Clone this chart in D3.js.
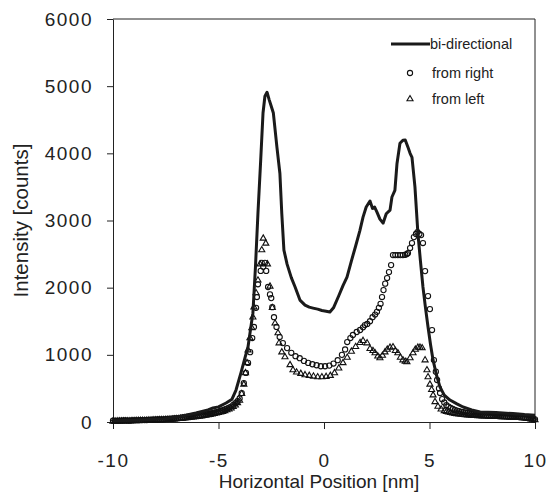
<!DOCTYPE html>
<html>
<head>
<meta charset="utf-8">
<script src="https://cdn.jsdelivr.net/npm/d3@7"></script>
<style>
body { margin: 0; background: #fff; }
svg { display: block; font-family: "Liberation Sans", Arial, sans-serif; }
.axis path, .axis line { stroke: #222; }
.axis text { fill: #222; font-size: 19px; letter-spacing: 1.5px; }
</style>
</head>
<body>
<div id="chart"></div>
<script>
// values, [position nm, counts]
const biDirectional = [
	[-10, 20], [-9, 25], [-8, 40], [-7.6, 45], [-7, 75], [-6.5, 105], [-6.07, 134], [-5.5, 180],
	[-5.26, 208], [-5, 225], [-4.64, 283], [-4.36, 340], [-4.17, 476], [-3.93, 740], [-3.75, 950],
	[-3.6, 1120], [-3.45, 1450], [-3.37, 1620], [-3.25, 2300], [-3.13, 3110], [-3.0, 3900],
	[-2.89, 4600], [-2.8, 4850], [-2.7, 4910], [-2.6, 4800], [-2.5, 4700], [-2.4, 4600],
	[-2.23, 4090], [-2.09, 3700], [-2.0, 3100], [-1.9, 2560], [-1.75, 2350], [-1.55, 2150],
	[-1.37, 2010], [-1.14, 1815], [-0.9, 1740], [-0.7, 1710], [-0.52, 1696], [-0.3, 1680],
	[-0.1, 1660], [0.1, 1650], [0.28, 1637], [0.45, 1700], [0.7, 1880], [0.9, 2030], [1.09, 2158],
	[1.3, 2400], [1.5, 2620], [1.7, 2850], [1.85, 3050], [2.0, 3200], [2.18, 3290], [2.3, 3180],
	[2.4, 3200], [2.51, 3125], [2.65, 3020], [2.8, 2960], [2.95, 3100], [3.13, 3155], [3.22, 3350],
	[3.36, 3450], [3.46, 3850], [3.6, 4150], [3.74, 4196], [3.85, 4200], [3.98, 4090], [4.08, 4000],
	[4.17, 3940], [4.31, 3500], [4.45, 2810], [4.57, 2400], [4.69, 2010], [4.81, 1700], [4.93, 1414],
	[5.05, 1150], [5.17, 920], [5.33, 700], [5.5, 520], [5.7, 400], [5.97, 327], [6.3, 270],
	[6.59, 223], [7.0, 180], [7.4, 150], [8.15, 140], [8.96, 125], [9.5, 110], [10, 100]
];

const fromRight = [
	[-10, 20], [-9.9, 18], [-9.8, 18], [-9.7, 20], [-9.6, 20], [-9.5, 22], [-9.4, 22], [-9.3, 20],
	[-9.2, 20], [-9.1, 24], [-9, 25], [-8.9, 25], [-8.8, 25], [-8.7, 27], [-8.6, 28], [-8.5, 29],
	[-8.4, 30], [-8.3, 31], [-8.2, 32], [-8.1, 34], [-8, 35], [-7.9, 37], [-7.8, 38], [-7.7, 39],
	[-7.6, 40], [-7.5, 43], [-7.4, 45], [-7.3, 48], [-7.2, 50], [-7.1, 52], [-7, 55], [-6.9, 58],
	[-6.8, 60], [-6.7, 65], [-6.6, 70], [-6.5, 75], [-6.4, 80], [-6.3, 85], [-6.2, 90], [-6.1, 92],
	[-6, 95], [-5.9, 100], [-5.8, 105], [-5.7, 110], [-5.6, 115], [-5.5, 120], [-5.4, 125],
	[-5.3, 132], [-5.2, 140], [-5.1, 148], [-5, 155], [-4.9, 165], [-4.8, 175], [-4.7, 188],
	[-4.6, 200], [-4.5, 215], [-4.4, 230], [-4.3, 255], [-4.2, 280], [-4.1, 310], [-4, 350],
	[-3.9, 430], [-3.8, 580], [-3.7, 730], [-3.6, 880], [-3.5, 1040], [-3.4, 1250], [-3.32, 1415],
	[-3.22, 1700], [-3.18, 1860], [-3.13, 2050], [-3.0, 2250], [-2.95, 2370], [-2.88, 2310],
	[-2.8, 2370], [-2.74, 2250], [-2.65, 2010], [-2.56, 1900], [-2.5, 1845], [-2.45, 1710],
	[-2.37, 1560], [-2.25, 1415], [-2.1, 1265], [-1.95, 1175], [-1.75, 1100], [-1.55, 1030],
	[-1.35, 980], [-1.15, 950], [-0.95, 910], [-0.75, 880], [-0.55, 860], [-0.35, 845], [-0.15, 830],
	[0.05, 830], [0.25, 840], [0.45, 870], [0.65, 920], [0.85, 1000], [1.0, 1080], [1.1, 1190],
	[1.25, 1250], [1.37, 1295], [1.55, 1340], [1.71, 1370], [1.85, 1410], [1.94, 1443], [2.05, 1460],
	[2.18, 1500], [2.3, 1560], [2.42, 1600], [2.51, 1640], [2.6, 1700], [2.68, 1760], [2.75, 1860],
	[2.82, 1964], [2.9, 2060], [2.99, 2143], [3.08, 2232], [3.18, 2336], [3.27, 2485], [3.38, 2485],
	[3.5, 2485], [3.62, 2485], [3.74, 2485], [3.85, 2490], [3.93, 2500], [3.98, 2515], [4.08, 2590],
	[4.17, 2664], [4.26, 2753], [4.36, 2800], [4.43, 2827], [4.52, 2800], [4.6, 2783], [4.69, 2664],
	[4.79, 2247], [4.93, 1875], [5.02, 1681], [5.12, 1369], [5.21, 922], [5.3, 750], [5.36, 625],
	[5.45, 500], [5.5, 432], [5.6, 340], [5.7, 290], [5.8, 250], [5.9, 230], [6, 210], [6.1, 195],
	[6.2, 180], [6.3, 170], [6.4, 160], [6.5, 152], [6.6, 145], [6.7, 140], [6.8, 135], [6.9, 130],
	[7, 125], [7.1, 121], [7.2, 118], [7.3, 114], [7.4, 110], [7.5, 108], [7.6, 105], [7.7, 102],
	[7.8, 100], [7.9, 97], [8, 95], [8.1, 92], [8.2, 90], [8.3, 89], [8.4, 88], [8.5, 86], [8.6, 85],
	[8.7, 82], [8.8, 80], [8.9, 79], [9, 78], [9.1, 76], [9.2, 75], [9.3, 72], [9.4, 70], [9.5, 65],
	[9.6, 60], [9.7, 55], [9.8, 50], [9.9, 45], [10, 40]
];

const fromLeft = [
	[-10, 10], [-9.9, 10], [-9.8, 12], [-9.7, 12], [-9.6, 12], [-9.5, 14], [-9.4, 15], [-9.3, 15],
	[-9.2, 15], [-9.1, 17], [-9, 18], [-8.9, 19], [-8.8, 20], [-8.7, 20], [-8.6, 20], [-8.5, 21],
	[-8.4, 22], [-8.3, 24], [-8.2, 25], [-8.1, 27], [-8, 28], [-7.9, 29], [-7.8, 30], [-7.7, 32],
	[-7.6, 33], [-7.5, 35], [-7.4, 36], [-7.3, 38], [-7.2, 40], [-7.1, 43], [-7, 45], [-6.9, 48],
	[-6.8, 50], [-6.7, 54], [-6.6, 58], [-6.5, 62], [-6.4, 65], [-6.3, 69], [-6.2, 72], [-6.1, 76],
	[-6, 80], [-5.9, 84], [-5.8, 88], [-5.7, 93], [-5.6, 98], [-5.5, 104], [-5.4, 110], [-5.3, 116],
	[-5.2, 122], [-5.1, 130], [-5, 138], [-4.9, 146], [-4.8, 155], [-4.7, 166], [-4.6, 178],
	[-4.5, 190], [-4.4, 205], [-4.3, 228], [-4.2, 250], [-4.1, 285], [-4, 320],
	[-3.9, 420], [-3.8, 560], [-3.72, 730], [-3.65, 880], [-3.6, 1070], [-3.51, 1250], [-3.42, 1400],
	[-3.37, 1560], [-3.32, 1710], [-3.22, 1920], [-3.13, 2110], [-3.03, 2350], [-2.95, 2560],
	[-2.88, 2734], [-2.76, 2659], [-2.68, 2350], [-2.56, 2020], [-2.45, 1700], [-2.32, 1470],
	[-2.18, 1325], [-2.13, 1175], [-2.0, 1040], [-1.85, 967], [-1.61, 850], [-1.47, 774],
	[-1.3, 740], [-1.1, 720], [-0.9, 700], [-0.7, 690], [-0.5, 680], [-0.3, 670], [-0.1, 670],
	[0.1, 675], [0.3, 690], [0.5, 730], [0.7, 800], [0.9, 880], [1.1, 960], [1.3, 1050], [1.5, 1120],
	[1.71, 1180], [1.85, 1210], [2.04, 1175], [2.18, 1090], [2.32, 1060], [2.42, 1027], [2.55, 980],
	[2.65, 952], [2.77, 990], [2.89, 1040], [3.0, 1080], [3.13, 1110], [3.27, 1116], [3.38, 1060],
	[3.5, 1027], [3.62, 960], [3.74, 922], [3.85, 900], [3.93, 893], [4.08, 952], [4.22, 1027],
	[4.33, 1080], [4.45, 1110], [4.55, 1110], [4.65, 1101], [4.79, 922], [4.88, 774], [4.93, 670],
	[5.02, 560], [5.1, 480], [5.17, 400], [5.26, 300], [5.4, 230], [5.55, 190], [5.7, 165],
	[5.8, 152], [5.9, 145], [6, 137], [6.1, 130], [6.2, 125], [6.3, 120], [6.4, 116], [6.5, 112],
	[6.6, 108], [6.7, 105], [6.8, 102], [6.9, 100], [7, 97], [7.1, 95], [7.2, 93], [7.3, 92],
	[7.4, 90], [7.5, 88], [7.6, 86], [7.7, 85], [7.8, 83], [7.9, 82], [8, 81], [8.1, 80], [8.2, 79],
	[8.3, 78], [8.4, 77], [8.5, 76], [8.6, 75], [8.7, 74], [8.8, 73], [8.9, 72], [9, 71], [9.1, 70],
	[9.2, 68], [9.3, 65], [9.4, 62], [9.5, 60], [9.6, 55], [9.7, 50], [9.8, 45], [9.9, 40], [10, 30]
];

const xTicks = [-10, -5, 0, 5, 10];
const yTicks = [0, 1000, 2000, 3000, 4000, 5000, 6000];
const legendLabels = ['bi-directional', 'from right', 'from left'];

const W = 547, H = 494;
const margin = {t:19, r:12, b:72, l:113};

const scaleX = d3.scaleLinear().domain([-10, 10]).range([margin.l, W - margin.r]);
const scaleY = d3.scaleLinear().domain([0, 6000]).range([H - margin.b, margin.t]);

const svg = d3.select('#chart')
	.append('svg')
	.attr('width', W).attr('height', H);

// frame: top and right edges
svg.append('path')
	.attr('d', `M${scaleX(-10)},${scaleY(6000)}H${scaleX(10)}V${scaleY(0)}`)
	.style('fill', 'none')
	.style('stroke', '#222')
	.style('stroke-width', 1);

const axisX = d3.axisBottom(scaleX)
	.tickValues(xTicks)
	.tickFormat(d => String(d))
	.tickSize(7)
	.tickPadding(25)
	.tickSizeOuter(0);

const axisY = d3.axisLeft(scaleY)
	.tickValues(yTicks)
	.tickFormat(d => String(d))
	.tickSize(6)
	.tickPadding(14)
	.tickSizeOuter(0);

svg.append('g')
	.attr('class', 'axis axis-x')
	.attr('transform', `translate(0, ${scaleY(0)})`)
	.call(axisX);

svg.append('g')
	.attr('class', 'axis axis-y')
	.attr('transform', `translate(${scaleX(-10)}, 0)`)
	.call(axisY);

// axis titles
svg.append('text')
	.attr('x', 319).attr('y', 488)
	.attr('text-anchor', 'middle')
	.style('font-size', '19px')
	.style('fill', '#222')
	.text('Horizontal Position [nm]');

svg.append('text')
	.attr('transform', `translate(28, ${(scaleY(0) + scaleY(6000)) / 2}) rotate(-90)`)
	.attr('text-anchor', 'middle')
	.style('font-size', '20.5px')
	.style('fill', '#222')
	.text('Intensity [counts]');

const plot = svg.append('g');

// markers
const tri = d3.symbol().type(d3.symbolTriangle).size(16);

plot.selectAll('.tri')
	.data(fromLeft)
	.enter()
	.append('path')
	.attr('class', 'tri')
	.attr('d', tri)
	.attr('transform', d => `translate(${scaleX(d[0])}, ${scaleY(d[1])})`)
	.style('fill', 'none')
	.style('stroke', '#111')
	.style('stroke-width', 1.1);

plot.selectAll('.circ')
	.data(fromRight)
	.enter()
	.append('circle')
	.attr('class', 'circ')
	.attr('cx', d => scaleX(d[0]))
	.attr('cy', d => scaleY(d[1]))
	.attr('r', 2.6)
	.style('fill', 'none')
	.style('stroke', '#111')
	.style('stroke-width', 1.1);

// the line
const line = d3.line()
	.x(d => scaleX(d[0]))
	.y(d => scaleY(d[1]));

plot.append('path')
	.datum(biDirectional)
	.attr('d', line)
	.style('fill', 'none')
	.style('stroke', '#1a1a1a')
	.style('stroke-width', 3)
	.style('stroke-linejoin', 'round');

// legend
const legend = svg.append('g').attr('transform', 'translate(391, 44)');
const legendRows = [0, 29, 55];

legend.append('line')
	.attr('x1', 0).attr('x2', 39)
	.attr('y1', legendRows[0]).attr('y2', legendRows[0])
	.style('stroke', '#1a1a1a')
	.style('stroke-width', 3);

legend.append('circle')
	.attr('cx', 19).attr('cy', legendRows[1]).attr('r', 2.6)
	.style('fill', 'none').style('stroke', '#111').style('stroke-width', 1.1);

legend.append('path')
	.attr('d', tri)
	.attr('transform', `translate(19, ${legendRows[2]})`)
	.style('fill', 'none').style('stroke', '#111').style('stroke-width', 1.1);

legend.selectAll('.lbl')
	.data(legendLabels)
	.enter()
	.append('text')
	.attr('class', 'lbl')
	.attr('x', (d, i) => i === 0 ? 39 : 41)
	.attr('y', (d, i) => legendRows[i] + 5)
	.style('font-size', '14.5px')
	.style('fill', '#222')
	.text(d => d);
</script>
</body>
</html>
